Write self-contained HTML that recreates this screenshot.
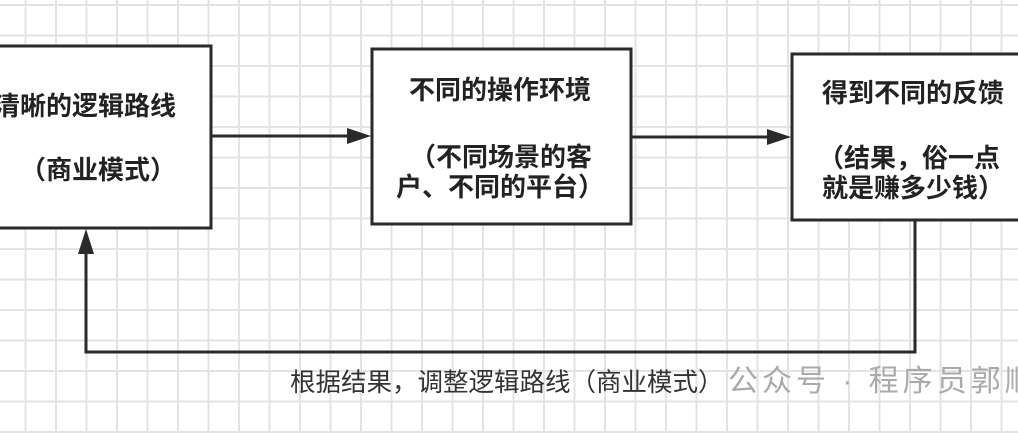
<!DOCTYPE html>
<html><head><meta charset="utf-8"><style>
html,body{margin:0;padding:0;}
body{width:1018px;height:433px;overflow:hidden;background:#fff;
background-image:linear-gradient(to right,#e3e3e3 2px,transparent 2px),linear-gradient(to bottom,#e3e3e3 2px,transparent 2px);
background-size:30.5px 30.5px;background-position:-6px 4px;position:relative;
font-family:"Liberation Sans","Noto Sans CJK SC",sans-serif;}
svg{position:absolute;left:0;top:0;}
.t{position:absolute;font-size:26px;font-weight:bold;color:#222;white-space:nowrap;line-height:30px;}
</style></head><body>
<svg width="1018" height="433">
<g fill="#fff" stroke="#2a2a2a" stroke-width="3">
<rect x="-10" y="46" width="221" height="182"/>
<rect x="372" y="49" width="259" height="175"/>
<rect x="792" y="54" width="240" height="166"/>
</g>
<g stroke="#2a2a2a" stroke-width="3" fill="none">
<line x1="211" y1="136" x2="350" y2="136"/>
<line x1="631" y1="137" x2="770" y2="137"/>
<polyline points="915,220 915,352 86,352 86,252"/>
</g>
<g fill="#2a2a2a">
<polygon points="371,136 347,128 347,144"/>
<polygon points="791,137 767,129 767,145"/>
<polygon points="86,229 78,254 94,254"/>
</g>
</svg>
<div class="t" style="left:-6px;top:91px;">清晰的逻辑路线</div>
<div class="t" style="left:20px;top:155px;">（商业模式）</div>
<div class="t" style="left:409px;top:75px;">不同的操作环境</div>
<div class="t" style="left:410px;top:142px;">（不同场景的客</div>
<div class="t" style="left:396px;top:172px;">户、不同的平台）</div>
<div class="t" style="left:822px;top:78px;">得到不同的反馈</div>
<div class="t" style="left:818px;top:143px;">（结果，俗一点</div>
<div class="t" style="left:822px;top:173px;">就是赚多少钱）</div>
<div class="t" style="left:290px;top:368px;font-weight:normal;font-size:25.5px;color:#333;">根据结果，调整逻辑路线（商业模式）</div>
<div class="t" style="left:728px;top:367px;font-weight:normal;font-size:30px;letter-spacing:4px;color:#aaa;">公众号 · 程序员郭顺</div>
</body></html>
